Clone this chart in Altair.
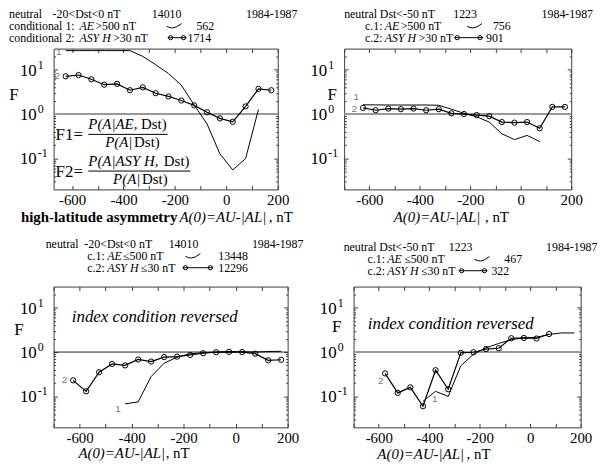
import altair as alt
import pandas as pd

SERIF = "Liberation Serif"
SANS = "Liberation Sans"
FRAME = "#3c3c3c"
HF = 12  # header font size

# ---------------- data ----------------
P1_X1 = [-625, -575, -525, -475, -425, -375, -325, -275, -225, -175, -125, -75, -25, 25, 75, 125]
P1_F1 = [27, 27, 27, 27, 27, 27, 20, 13, 8.2, 4.5, 1.6, 0.6, 0.127, 0.055, 0.099, 1.27]
P1_X2 = [-625, -575, -525, -475, -425, -375, -325, -275, -225, -175, -125, -75, -25, 25, 75, 125, 175]
P1_F2 = [7.1, 7.6, 6.1, 4.6, 4.8, 3.45, 4.0, 2.95, 2.5, 2.02, 1.57, 1.1, 0.8, 0.67, 1.49, 3.7, 3.45]

P2_X1 = [-625, -575, -525, -475, -425, -375, -325, -275, -225, -175, -125, -75, -25, 25, 75]
P2_F1 = [1.62, 1.61, 1.6, 1.6, 1.6, 1.6, 1.58, 1.29, 1.04, 0.87, 0.66, 0.36, 0.265, 0.33, 0.24]
P2_X2 = [-625, -575, -525, -475, -425, -375, -325, -275, -225, -175, -125, -75, -25, 25, 75, 125, 175]
P2_F2 = [1.38, 1.22, 1.33, 1.29, 1.33, 1.22, 1.29, 1.04, 1.0, 0.95, 0.9, 0.66, 0.64, 0.66, 0.48, 1.45, 1.45]

P3_X1 = [-425, -375, -325, -275, -225, -175, -125, -75, -25, 25, 75, 125, 175]
P3_F1 = [0.068, 0.075, 0.28, 0.56, 0.77, 0.91, 0.97, 1.0, 1.02, 1.02, 1.0, 1.03, 1.04]
P3_X2 = [-625, -575, -525, -475, -425, -375, -325, -275, -225, -175, -125, -75, -25, 25, 75, 125, 175]
P3_F2 = [0.23, 0.13, 0.35, 0.54, 0.50, 0.68, 0.61, 0.77, 0.79, 0.86, 0.94, 0.99, 1.01, 1.0, 0.92, 0.65, 0.67]

P4_X1 = [-425, -375, -325, -275, -225, -175, -125, -75, -25, 25, 75, 125, 175]
P4_F1 = [0.077, 0.13, 0.10, 0.49, 0.89, 1.25, 1.56, 1.9, 2.1, 2.15, 2.5, 2.7, 2.7]
P4_X2 = [-575, -525, -475, -425, -375, -325, -275, -225, -175, -125, -75, -25, 25, 75]
P4_F2 = [0.33, 0.12, 0.16, 0.06, 0.39, 0.145, 0.96, 0.99, 1.17, 1.22, 2.05, 2.08, 2.02, 2.55]

# curve tags "1" / "2": (tag, x, F)
P1_TAGS = [("1", -652, 25), ("2", -658, 7.1)]
P2_TAGS = [("1", -652, 2.4), ("2", -660, 1.3)]
P3_TAGS = [("2", -658, 0.23), ("1", -452, 0.052)]
P4_TAGS = [("2", -592, 0.22), ("1", -378, 0.088)]

X_TICKS = [-700, -600, -500, -400, -300, -200, -100, 0, 100, 200]
X_LABELS = [-600, -400, -200, 0, 200]
Y_MAJOR = [0.1, 1, 10]
Y_EXP = ["-1", "0", "1"]
Y_MINOR = [0.03, 0.04, 0.05, 0.06, 0.07, 0.08, 0.09, 0.2, 0.3, 0.4, 0.5, 0.6, 0.7, 0.8, 0.9,
           2, 3, 4, 5, 6, 7, 8, 9, 20]
Y_DOMAIN = [0.02, 30]

SWOOSH = [(0, 0), (3, 1.3), (6, 1.7), (10, 0.6), (15, -2.7)]


def text_layers(items):
    groups = {}
    for it in items:
        key = (it.get("style", "normal"), it.get("weight", "normal"), it.get("align", "left"),
               it.get("baseline", "alphabetic"), it.get("color", "black"), it.get("font", SERIF))
        groups.setdefault(key, []).append(it)
    out = []
    for (style, weight, align, baseline, color, font), its in groups.items():
        df = pd.DataFrame({"px": [i["x"] for i in its], "py": [i["y"] for i in its],
                           "t": [i["t"] for i in its], "s": [i.get("size", HF) for i in its]})
        out.append(alt.Chart(df).mark_text(font=font, fontStyle=style, fontWeight=weight, align=align,
                                           baseline=baseline, color=color).encode(
            x=alt.X("px:Q", scale=None), y=alt.Y("py:Q", scale=None), text="t:N",
            size=alt.Size("s:Q", scale=None, legend=None)))
    return out


def deco_layers(swooshes, syms, bars):
    out = []
    rows = []
    for gi, (x0, y0) in enumerate(swooshes):
        for k, (dx, dy) in enumerate(SWOOSH):
            rows.append({"px": x0 + dx, "py": y0 + dy, "g": "s%d" % gi, "o": k})
    out.append(alt.Chart(pd.DataFrame(rows)).mark_line(color="black", strokeWidth=1).encode(
        x=alt.X("px:Q", scale=None), y=alt.Y("py:Q", scale=None), detail="g:N", order="o:Q"))
    rrows = []
    crows = []
    for (x0, x1, y) in syms:
        rrows.append({"px": x0, "px2": x1, "py": y})
        crows.append({"px": x0 + 3, "py": y})
        crows.append({"px": x1 - 3, "py": y})
    for (x0, x1, y) in bars:
        rrows.append({"px": x0, "px2": x1, "py": y})
    out.append(alt.Chart(pd.DataFrame(rrows)).mark_rule(color="black", strokeWidth=1).encode(
        x=alt.X("px:Q", scale=None), x2="px2:Q", y=alt.Y("py:Q", scale=None)))
    if crows:
        out.append(alt.Chart(pd.DataFrame(crows)).mark_point(shape="circle", filled=False, size=18,
                                                             color="black", strokeWidth=1, opacity=1).encode(
            x=alt.X("px:Q", scale=None), y=alt.Y("py:Q", scale=None)))
    return out


def panel(x1, f1, x2, f2, tags, xdom, W, H, rule_color, rule_w, items, swooshes, syms, bars):
    s1 = pd.DataFrame({"x": x1, "f": f1})
    s2 = pd.DataFrame({"x": x2, "f": f2})
    tg = pd.DataFrame({"t": [t[0] for t in tags], "x": [t[1] for t in tags], "f": [t[2] for t in tags]})
    yl = pd.DataFrame({"f": Y_MAJOR, "e": Y_EXP})
    xs = alt.Scale(domain=xdom, nice=False, zero=False)
    ys = alt.Scale(type="log", domain=Y_DOMAIN, nice=False)
    xt = [v for v in X_TICKS if xdom[0] <= v <= xdom[1]]
    common = dict(grid=False, domain=False, title=None)

    def tick_ax(orient, values, size):
        return alt.Axis(orient=orient, values=values, ticks=True, tickSize=size, offset=-size,
                        labels=False, tickColor=FRAME, tickWidth=1, **common)

    ax_xlab = alt.Axis(orient="bottom", values=X_LABELS, ticks=False, tickSize=0, labelPadding=3,
                       labelFont=SERIF, labelFontSize=15, labelColor="black", labelFlush=False,
                       labelOverlap=False, labelExpr="'' + datum.value", **common)

    def ax_layer(xa, ya):
        return alt.Chart(s2).mark_point(opacity=0).encode(
            x=alt.X("x:Q", scale=xs, axis=xa), y=alt.Y("f:Q", scale=ys, axis=ya))

    layers = [
        ax_layer(ax_xlab, None),
        ax_layer(tick_ax("bottom", xt, 4), tick_ax("left", Y_MAJOR, 4)),
        ax_layer(tick_ax("top", xt, 4), tick_ax("right", Y_MAJOR, 4)),
        ax_layer(None, tick_ax("left", Y_MINOR, 2)),
        ax_layer(None, tick_ax("right", Y_MINOR, 2)),
        # y tick labels 10^n: mantissa and raised exponent
        alt.Chart(yl).mark_text(font=SERIF, fontSize=17, align="right", baseline="middle", dy=1,
                                color="black").encode(
            x=alt.value(-17), y=alt.Y("f:Q", scale=ys, axis=None), text=alt.value("10")),
        alt.Chart(yl).mark_text(font=SERIF, fontSize=12, align="left", baseline="middle", dy=-5,
                                color="black").encode(
            x=alt.value(-16), y=alt.Y("f:Q", scale=ys, axis=None), text="e:N"),
        alt.Chart(pd.DataFrame({"a": [0]})).mark_rule(color=rule_color, strokeWidth=rule_w).encode(
            y=alt.YDatum(1, axis=None)),
        alt.Chart(s1).mark_line(color="black", strokeWidth=1).encode(
            x=alt.X("x:Q", scale=xs, axis=None), y=alt.Y("f:Q", scale=ys, axis=None)),
        alt.Chart(s2).mark_line(color="black", strokeWidth=1.2).encode(
            x=alt.X("x:Q", scale=xs, axis=None), y=alt.Y("f:Q", scale=ys, axis=None)),
        alt.Chart(s2).mark_point(shape="circle", filled=False, size=28, color="black", strokeWidth=1,
                                 opacity=1).encode(
            x=alt.X("x:Q", scale=xs, axis=None), y=alt.Y("f:Q", scale=ys, axis=None)),
        alt.Chart(tg).mark_text(font=SANS, fontSize=10, color="#777777", align="center",
                                baseline="middle").encode(
            x=alt.X("x:Q", scale=xs, axis=None), y=alt.Y("f:Q", scale=ys, axis=None), text="t:N"),
    ]
    layers += deco_layers(swooshes, syms, bars)
    layers += text_layers(items)
    return alt.layer(*layers).resolve_axis(x="independent", y="independent").properties(width=W, height=H)


def T(x, y, t, size=HF, **kw):
    d = {"x": x, "y": y, "t": t, "size": size}
    d.update(kw)
    return d


IT = {"style": "italic"}
FCEN = {"align": "center", "baseline": "middle"}

# ---------------- panel 1 ----------------
p1_items = [
    T(-45, -31, "neutral"), T(-1, -31, "-20<Dst<0 nT"), T(99, -31, "14010"), T(194, -31, "1984-1987"),
    T(-45, -19, "conditional 1:"), T(26, -19, "AE", **IT), T(42, -19, ">500 nT"), T(144, -19, "562"),
    T(-45, -7, "conditional 2:"), T(26, -7, "ASY H", **IT), T(60, -7, ">30 nT"), T(135, -7, "1714"),
    T(-40, 46.5, "F", 17, **FCEN),
    T(-33, 174.5, "high-latitude asymmetry", 15, weight="bold"), T(127, 174.5, "A(0)=AU-|AL|", 15, **IT),
    T(217, 174.5, ", nT", 15),
    T(2, 92, "F1=", 17), T(35, 81.5, "P(A|AE,", 15, **IT), T(114, 81.5, "Dst)", 15, align="right"),
    T(52, 99.5, "P(A|", 15, **IT), T(107, 99.5, "Dst)", 15, align="right"),
    T(2, 129, "F2=", 17), T(35, 118.5, "P(A|ASY H,", 15, **IT), T(137, 118.5, "Dst)", 15, align="right"),
    T(60, 136.5, "P(A|", 15, **IT), T(115, 136.5, "Dst)", 15, align="right"),
]
p1 = panel(P1_X1, P1_F1, P1_X2, P1_F2, P1_TAGS, [-672, 200], 226, 142, "#999999", 2, p1_items,
           [(114, -22.5)], [(115, 134, -11)], [(35, 115, 86.5), (35, 138, 123.5)])

# ---------------- panel 2 ----------------
p2_items = [
    T(0, -31, "neutral"), T(36, -31, "Dst<-50 nT"), T(110, -31, "1223"),
    T(251, -31, "1984-1987", align="right"),
    T(21, -19, "c.1:"), T(41, -19, "AE", **IT), T(57, -19, ">500 nT"), T(150, -19, "756"),
    T(21, -7, "c.2:"), T(41, -7, "ASY H", **IT), T(75, -7, ">30 nT"), T(143, -7, "901"),
    T(-12, 46.5, "F", 17, **FCEN),
    T(50, 174.5, "A(0)=AU-|AL|", 15, **IT), T(142, 174.5, ", nT", 15),
]
p2 = panel(P2_X1, P2_F1, P2_X2, P2_F2, P2_TAGS, [-700, 200], 229, 142, "#999999", 2, p2_items,
           [(124, -22.5)], [(111, 140, -11)], [])

# ---------------- panel 3 ----------------
p3_items = [
    T(-8, -39, "neutral"), T(31, -39, "-20<Dst<0 nT"), T(116, -39, "14010"), T(200, -39, "1984-1987"),
    T(34, -27, "c.1:"), T(54, -27, "AE", **IT), T(70, -27, "\u2264500 nT"), T(166, -27, "13448"),
    T(34, -15, "c.2:"), T(54, -15, "ASY H", **IT), T(88, -15, "\u226430 nT"), T(166, -15, "12296"),
    T(-35, 43.5, "F", 17, **FCEN),
    T(102, 36, "index condition reversed", 17, style="italic", align="center"),
    T(25, 173, "A(0)=AU-|AL|", 15, **IT), T(113, 173, ", nT", 15),
]
p3 = panel(P3_X1, P3_F1, P3_X2, P3_F2, P3_TAGS, [-700, 200], 236, 142, "#222222", 1, p3_items,
           [(133, -30.5)], [(130, 161, -19)], [])

# ---------------- panel 4 ----------------
p4_items = [
    T(-10, -36, "neutral"), T(26, -36, "Dst<-50 nT"), T(96, -36, "1223"),
    T(246, -36, "1984-1987", align="right"),
    T(14, -24, "c.1:"), T(34, -24, "AE", **IT), T(51, -24, "\u2264500 nT"), T(152, -24, "467"),
    T(14, -12, "c.2:"), T(34, -12, "ASY H", **IT), T(68, -12, "\u226430 nT"), T(139, -12, "322"),
    T(-17, 40.5, "F", 17, **FCEN),
    T(98, 43, "index condition reversed", 17, style="italic", align="center"),
    T(24, 173.5, "A(0)=AU-|AL|", 15, **IT), T(114, 173.5, ", nT", 15),
]
p4 = panel(P4_X1, P4_F1, P4_X2, P4_F2, P4_TAGS, [-700, 200], 229, 142, "#999999", 2, p4_items,
           [(122, -27.5)], [(106, 135, -16)], [])

row1 = alt.hconcat(p1, p2, spacing=67, bounds="flush")
row2 = alt.hconcat(p3, p4, spacing=66.5, bounds="flush")

chart = alt.vconcat(row1, row2, spacing=12).properties(
    padding={"left": 0, "top": -3, "right": 0, "bottom": 0},
    background="white").configure_view(stroke=FRAME, strokeWidth=1)

chart.save("out.html", embed_options={"renderer": "svg", "actions": False})
